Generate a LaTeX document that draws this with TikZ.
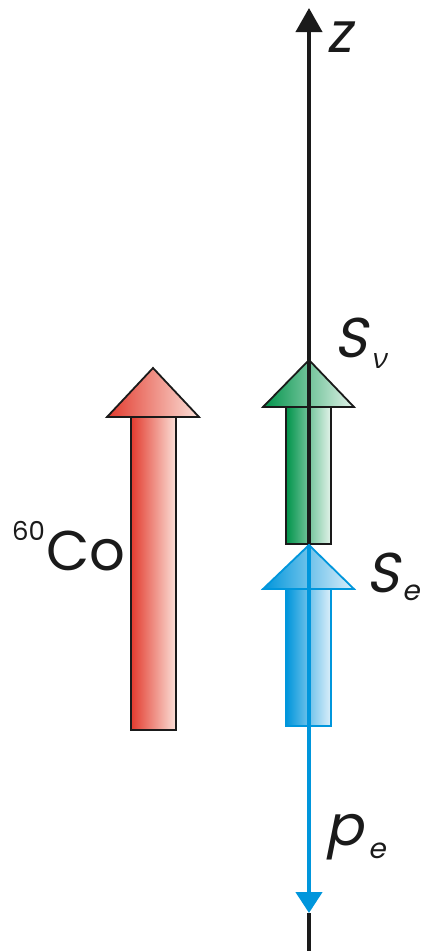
\documentclass[tikz,border=0pt]{standalone}
\usepackage{fontspec}
\setmainfont{Poppins}
\newfontfamily\slfont[FakeSlant=0.2]{Poppins}
\newfontfamily\grkfont[FakeSlant=0.2]{Open Sans}
\usetikzlibrary{arrows.meta}
\definecolor{redL}{HTML}{E23B2E}
\definecolor{redR}{HTML}{FBE0D8}
\definecolor{grnL}{HTML}{00934A}
\definecolor{grnR}{HTML}{E3F3EA}
\definecolor{bluL}{HTML}{0095DB}
\definecolor{bluR}{HTML}{DCEFFA}
\definecolor{bluLine}{HTML}{0096DC}
\definecolor{ink}{HTML}{1A1A1A}
\newcommand{\subsz}{\fontsize{28}{30}\selectfont}
\tikzset{
  redbox/.style={draw=ink, line width=1.8pt, left color=redL, right color=redR, line join=miter},
  grnbox/.style={draw=ink, line width=1.8pt, left color=grnL, right color=grnR, line join=miter},
  blubox/.style={draw=bluLine, line width=1.8pt, left color=bluL, right color=bluR, line join=miter},
  axisline/.style={draw=ink, line width=4pt},
  momline/.style={draw=bluLine, line width=4.5pt},
  lbl/.style={inner sep=0pt, anchor=base west, text=ink},
  big/.style={font=\fontsize{56}{60}\selectfont},
}
\begin{document}
\begin{tikzpicture}[x=1pt,y=-1pt]
\useasboundingbox (0,0) rectangle (422,951);
% coordinates on the axis
\coordinate (zbot) at (309,951);
\coordinate (ztop) at (309,8);
\coordinate (btip) at (309,545);
\coordinate (ptip) at (309,913);
% red arrow (60Co)
\path[redbox] (131,417) rectangle (176,730);
\path[redbox] (107,417) -- (153,368) -- (199,417) -- cycle;
% green arrow (S_nu)
\path[grnbox] (286,407) rectangle (331,544);
\path[grnbox] (263,407) -- (309,360) -- (354,407) -- cycle;
% black axis, upper part
\draw[axisline, -{Triangle[length=24pt,width=26pt]}] (btip) -- (ztop);
% blue arrow (S_e)
\path[blubox] (286,589) rectangle (331,726);
\path[blubox] (263,589) -- (309,545) -- (354,589) -- cycle;
% electron momentum
\draw[momline, -{Triangle[length=21pt,width=26pt]}] (btip) -- (ptip);
% black axis, lower part
\draw[axisline] (ptip) -- (zbot);
% labels
\node[lbl, big] (zlab) at (326,52) {\slfont z};
\node[lbl, big] (snu) at (334,357) {\slfont S\kern4pt\raisebox{-11pt}{\subsz\grkfont ν}};
\node[lbl, big] (se) at (366,592) {\slfont S\kern3pt\raisebox{-8pt}{\subsz e}};
\node[lbl, big] (pe) at (325,845) {\slfont p\kern5pt\raisebox{-13pt}{\subsz e}};
\node[lbl, big] (co) at (12,570) {\raisebox{30pt}{\fontsize{26}{28}\selectfont 60}\kern1pt Co};
\end{tikzpicture}
\end{document}
